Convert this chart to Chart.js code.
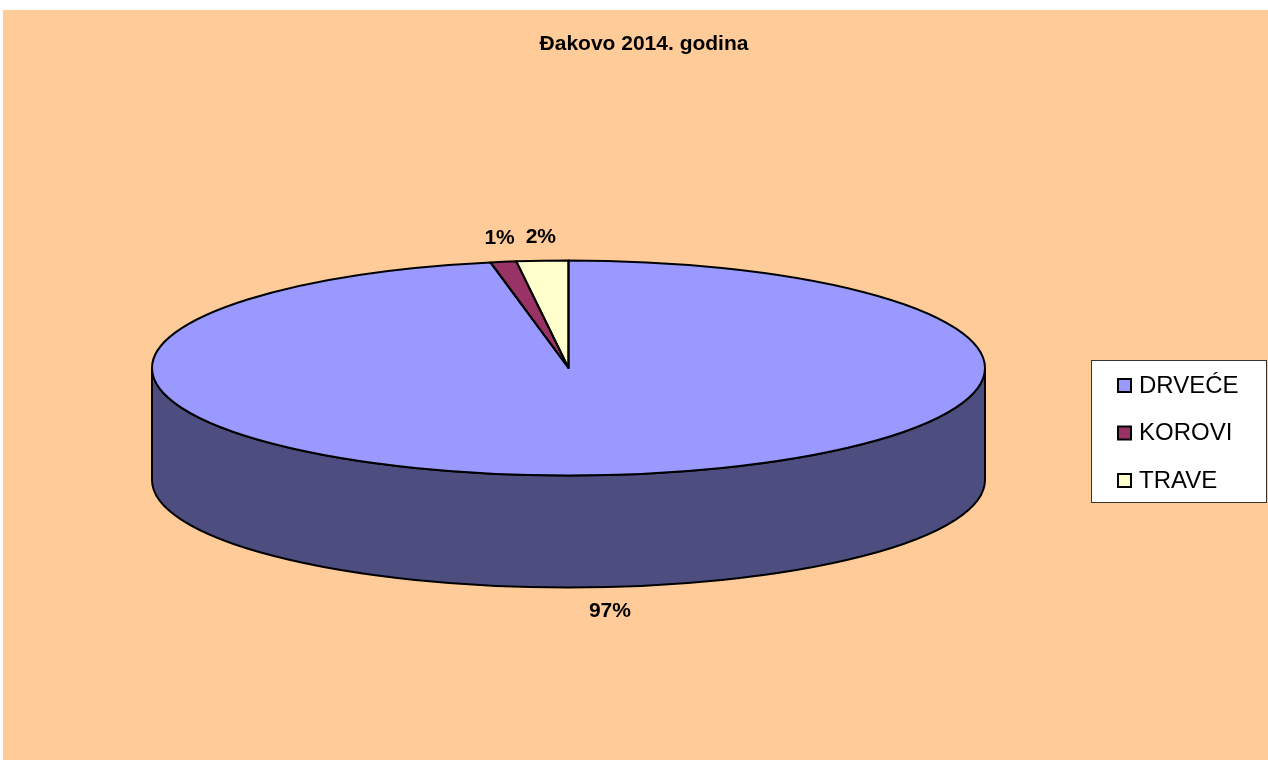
<!DOCTYPE html>
<html>
<head>
<meta charset="utf-8">
<title>Đakovo 2014. godina</title>
<script src="https://cdn.jsdelivr.net/npm/chart.js@4"></script>
<style>
  html, body { margin: 0; padding: 0; background: #fff; }
  canvas { display: block; }
</style>
</head>
<body>
<canvas id="myChart" width="1268" height="760"></canvas>
<script>
const categories = ['DRVEĆE', 'KOROVI', 'TRAVE'];
const shares = [97, 1, 2];
const chartTitle = 'Đakovo 2014. godina';

const sliceColors = ['#9999FF', '#993366', '#FFFFCC'];
const sideColors = ['#4D4D80', '#4D1A33', '#808066'];
const FONT = "Arial, 'Liberation Sans', sans-serif";

// tilted pie: radii of the top face and height of the rim
const tilt = { rx: 416.5, ry: 107.5, depth: 112 };

function tiltTransform(ctx, arc) {
  ctx.translate(arc.x, arc.y);
  ctx.scale(tilt.rx / arc.outerRadius, tilt.ry / arc.outerRadius);
  ctx.translate(-arc.x, -arc.y);
}

const pie3d = {
  id: 'pie3d',
  beforeDraw(chart) {
    const ctx = chart.ctx;
    ctx.save();
    ctx.fillStyle = '#FFCC99';
    ctx.fillRect(3, 10, chart.width - 3, chart.height - 10);

    // title is centred on the whole plot, not on the pie
    ctx.fillStyle = '#000';
    ctx.font = 'bold 21px ' + FONT;
    ctx.textAlign = 'center';
    ctx.textBaseline = 'middle';
    ctx.fillText(chartTitle, 644, 44);
    ctx.restore();
  },
  beforeDatasetsDraw(chart) {
    const ctx = chart.ctx;
    const arcs = chart.getDatasetMeta(0).data;

    // rim, only the front half (0..PI) shows
    ctx.save();
    ctx.lineWidth = 2;
    ctx.strokeStyle = '#000';
    ctx.lineJoin = 'round';
    arcs.forEach((arc, i) => {
      for (let k = -1; k <= 1; k++) {
        const a0 = Math.max(arc.startAngle, k * 2 * Math.PI);
        const a1 = Math.min(arc.endAngle, k * 2 * Math.PI + Math.PI);
        if (a1 <= a0) continue;
        ctx.beginPath();
        ctx.ellipse(arc.x, arc.y, tilt.rx, tilt.ry, 0, a0, a1);
        ctx.ellipse(arc.x, arc.y + tilt.depth, tilt.rx, tilt.ry, 0, a1, a0, true);
        ctx.closePath();
        ctx.fillStyle = sideColors[i];
        ctx.fill();
        ctx.stroke();
      }
    });
    ctx.restore();

    // squash the top face, restored in afterDatasetsDraw
    ctx.save();
    tiltTransform(ctx, arcs[0]);
  },
  afterDatasetsDraw(chart) {
    const ctx = chart.ctx;
    ctx.restore();
    const arcs = chart.getDatasetMeta(0).data;
    const total = shares.reduce((a, b) => a + b, 0);

    // outlines with an even line width
    arcs.forEach(arc => {
      ctx.save();
      tiltTransform(ctx, arc);
      ctx.beginPath();
      ctx.moveTo(arc.x, arc.y);
      ctx.arc(arc.x, arc.y, arc.outerRadius, arc.startAngle, arc.endAngle);
      ctx.closePath();
      ctx.restore();
      ctx.save();
      ctx.lineWidth = 2;
      ctx.lineJoin = 'round';
      ctx.strokeStyle = '#000';
      ctx.stroke();
      ctx.restore();
    });

    // percentage labels
    ctx.save();
    ctx.fillStyle = '#000';
    ctx.font = 'bold 21px ' + FONT;
    ctx.textAlign = 'center';
    ctx.textBaseline = 'middle';
    arcs.forEach((arc, i) => {
      const mid = (arc.startAngle + arc.endAngle) / 2;
      const c = Math.cos(mid), s = Math.sin(mid);
      const x = arc.x + (tilt.rx + 24) * c;
      const y = arc.y + (tilt.ry + 24) * s + (s > 0 ? tilt.depth : 0);
      ctx.fillText(Math.round(shares[i] / total * 100) + '%', x, y);
    });
    ctx.restore();
  },
  afterDraw(chart) {
    const ctx = chart.ctx;
    ctx.save();
    ctx.fillStyle = '#fff';
    ctx.fillRect(1091, 360, 176, 143);
    ctx.strokeStyle = '#333';
    ctx.lineWidth = 1;
    ctx.strokeRect(1091.5, 360.5, 175, 142);

    ctx.font = '24px ' + FONT;
    ctx.textBaseline = 'middle';
    ctx.textAlign = 'left';
    categories.forEach((name, i) => {
      const y = 386 + i * 47.5;
      ctx.fillStyle = sliceColors[i];
      ctx.fillRect(1118, y - 7, 13, 13);
      ctx.lineWidth = 2;
      ctx.strokeStyle = '#000';
      ctx.strokeRect(1118, y - 7, 13, 13);
      ctx.fillStyle = '#000';
      ctx.fillText(name, 1139, y);
    });
    ctx.restore();
  }
};

const ctx = document.getElementById('myChart').getContext('2d');

const myChart = new Chart(ctx, {
  type: 'pie',
  data: {
    labels: categories,
    datasets: [{
      data: shares,
      backgroundColor: sliceColors,
      borderWidth: 0,
      hoverOffset: 0
    }]
  },
  options: {
    responsive: false,
    animation: false,
    events: [],
    layout: {
      padding: { left: 100, right: 231, top: 66, bottom: 90 }
    },
    plugins: {
      legend: { display: false },
      tooltip: { enabled: false },
      title: { display: false }
    }
  },
  plugins: [pie3d]
});
</script>
</body>
</html>
